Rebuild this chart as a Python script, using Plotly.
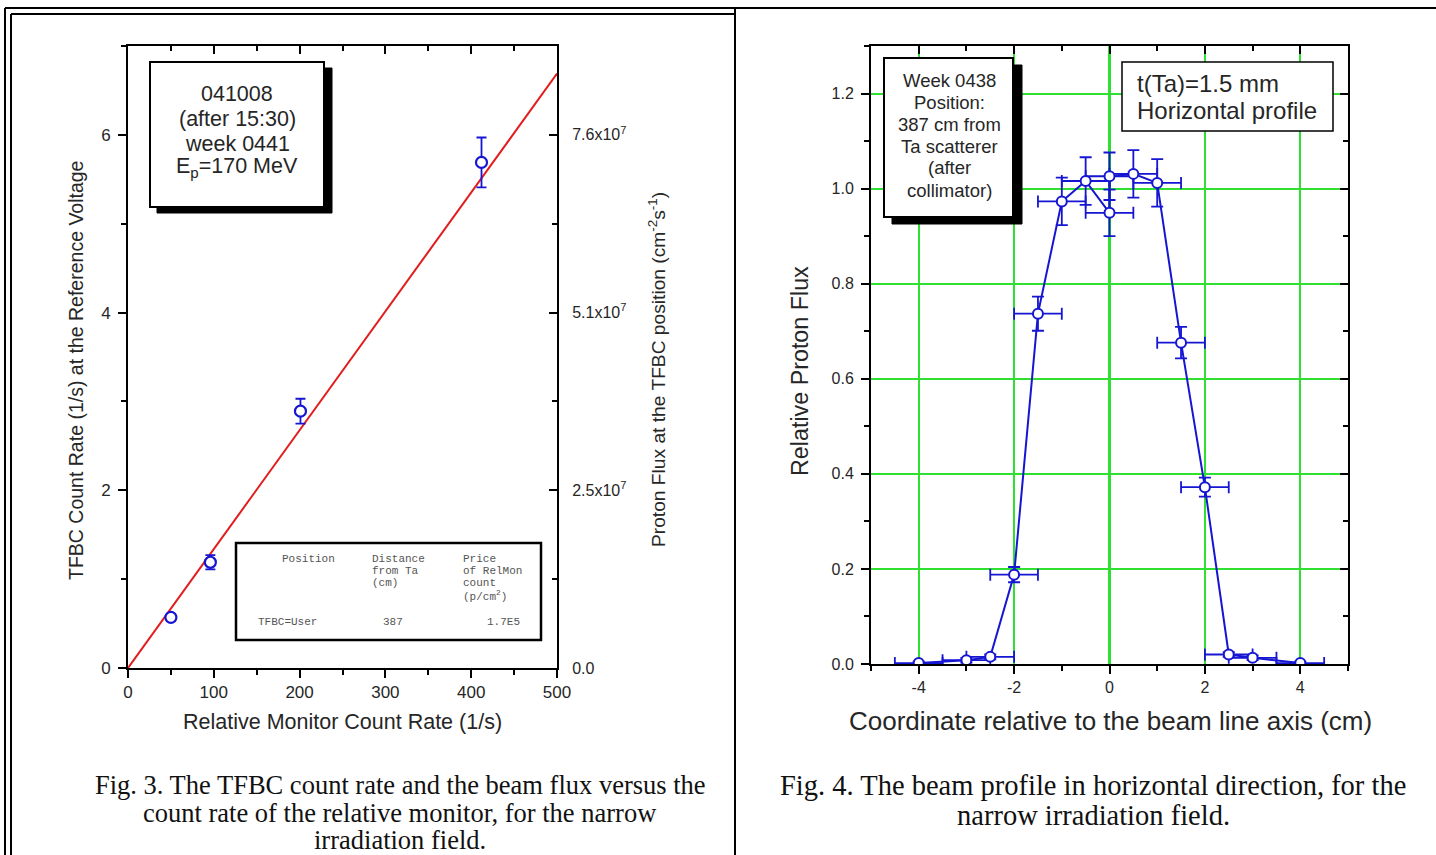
import plotly.graph_objects as go

# ---------------- data ----------------
# Fig. 3 (left panel)
mon_rate = [50, 96, 201, 412]            # Relative monitor count rate (1/s)
tfbc_rate = [0.57, 1.19, 2.89, 5.69]     # TFBC count rate (1/s)
tfbc_err = [0.04, 0.08, 0.14, 0.28]
fit_x = [0, 500]
fit_y = [0.0, 6.69]
flux_tickvals = [0, 2.54e7, 5.08e7, 7.62e7]
flux_ticklabels = ["0.0", "2.5x10<sup>7</sup>", "5.1x10<sup>7</sup>", "7.6x10<sup>7</sup>"]
flux_minor = [1.27e7, 3.81e7, 6.35e7]
flux_max = 8.89e7

# Fig. 4 (right panel)
coord = [-4, -3, -2.5, -2, -1.5, -1, -0.5, 0, 0, 0.5, 1, 1.5, 2, 2.5, 3, 4]
coord_err = [0.5] * 16
rel_flux = [0.002, 0.008, 0.015, 0.188, 0.737, 0.973, 1.016, 0.949, 1.026,
            1.031, 1.012, 0.676, 0.372, 0.020, 0.013, 0.002]
rel_flux_err = [0.003, 0.005, 0.005, 0.016, 0.036, 0.05, 0.05, 0.049, 0.05,
                0.05, 0.05, 0.033, 0.02, 0.005, 0.005, 0.003]
coord_ticks = [-4, -2, 0, 2, 4]
coord_ticklabels = ["-4", "-2", "0", "2", "4"]

W, H = 1436, 855


def fx(p):
    return p / W


def fy(p):
    return 1 - p / H


FONT = "Liberation Sans, Arial, sans-serif"
SERIF = "Liberation Serif, Times New Roman, serif"
MONO = "Liberation Mono, Courier New, monospace"
BLUE = "#1616d2"
RED = "#e21c1c"
GREEN = "#30e030"
TXT = "#262626"

fig = go.Figure()

# ---- left panel traces ----
fig.add_trace(go.Scatter(x=fit_x, y=fit_y, mode="lines",
                         line=dict(color=RED, width=2), xaxis="x", yaxis="y",
                         showlegend=False, hoverinfo="skip"))
fig.add_trace(go.Scatter(x=mon_rate, y=tfbc_rate, mode="markers",
                         marker=dict(symbol="circle", size=11, color="white",
                                     line=dict(color=BLUE, width=2.2)),
                         error_y=dict(type="data", array=tfbc_err, color=BLUE,
                                      thickness=1.8, width=5),
                         xaxis="x", yaxis="y", showlegend=False))
# dummy traces so the overlay axes are drawn
fig.add_trace(go.Scatter(x=[None], y=[None], xaxis="x", yaxis="y2", showlegend=False))
fig.add_trace(go.Scatter(x=[None], y=[None], xaxis="x3", yaxis="y", showlegend=False))

# ---- right panel traces ----
fig.add_trace(go.Scatter(x=coord, y=rel_flux, mode="lines+markers",
                         line=dict(color=BLUE, width=2),
                         marker=dict(symbol="circle", size=10, color="white",
                                     line=dict(color=BLUE, width=2)),
                         error_y=dict(type="data", array=rel_flux_err, color=BLUE,
                                      thickness=1.8, width=6),
                         error_x=dict(type="data", array=coord_err, color=BLUE,
                                      thickness=1.8, width=6),
                         xaxis="x4", yaxis="y4", showlegend=False))
fig.add_trace(go.Scatter(x=[None], y=[None], xaxis="x4", yaxis="y5", showlegend=False))
fig.add_trace(go.Scatter(x=[None], y=[None], xaxis="x5", yaxis="y4", showlegend=False))

tickfont = dict(family=FONT, size=17, color=TXT)
tickfont_r = dict(family=FONT, size=16, color=TXT)
common = dict(showline=True, linecolor="black", linewidth=2, zeroline=False,
              showgrid=False, tickcolor="black", tickwidth=2, automargin=False)

L_dom_x = [fx(128), fx(557)]
L_dom_y = [fy(668), fy(46)]
R_dom_x = [fx(871), fx(1348)]
R_dom_y = [fy(664), fy(46)]

fig.update_layout(
    width=W, height=H, autosize=False,
    margin=dict(l=0, r=0, t=0, b=0, autoexpand=False),
    paper_bgcolor="white", plot_bgcolor="white",
    showlegend=False,
    xaxis=dict(domain=L_dom_x, anchor="y", range=[0, 500], tickmode="linear",
               tick0=0, dtick=100, ticks="outside", ticklen=8, tickfont=tickfont,
               minor=dict(ticks="outside", ticklen=5, dtick=50, tickcolor="black", tickwidth=2),
               **common),
    xaxis3=dict(overlaying="x", anchor="y", side="top", range=[0, 500], tickmode="linear",
                tick0=0, dtick=100, ticks="inside", ticklen=8, showticklabels=False,
                minor=dict(ticks="inside", ticklen=5, dtick=50, tickcolor="black", tickwidth=2),
                **common),
    yaxis=dict(domain=L_dom_y, anchor="x", range=[0, 7], tickmode="linear", tick0=0,
               dtick=2, ticks="outside", ticklen=8, tickfont=tickfont, ticklabelstandoff=4,
               minor=dict(ticks="outside", ticklen=5, dtick=1, tickcolor="black", tickwidth=2),
               **common),
    yaxis2=dict(overlaying="y", anchor="x", side="right", range=[0, flux_max],
                tickmode="array", tickvals=flux_tickvals, ticktext=flux_ticklabels,
                ticks="inside", ticklen=8, tickfont=dict(family=FONT, size=16, color=TXT),
                ticklabelstandoff=10,
                minor=dict(ticks="inside", ticklen=5, tickmode="array", tickvals=flux_minor,
                           tickcolor="black", tickwidth=2),
                **common),
    xaxis4=dict(domain=R_dom_x, anchor="y4", range=[-5, 5], tickmode="array",
                tickvals=coord_ticks, ticktext=coord_ticklabels,
                ticks="outside", ticklen=8, tickfont=tickfont_r, automargin=False,
                showline=True, linecolor="black", linewidth=2, tickcolor="black", tickwidth=2,
                showgrid=True, gridcolor=GREEN, gridwidth=1.5,
                zeroline=True, zerolinecolor=GREEN, zerolinewidth=3,
                minor=dict(ticks="outside", ticklen=5, tickmode="linear", tick0=0, dtick=1,
                           tickcolor="black", tickwidth=2)),
    xaxis5=dict(overlaying="x4", anchor="y4", side="top", range=[-5, 5], tickmode="linear",
                tick0=0, dtick=2, ticks="inside", ticklen=8, showticklabels=False,
                minor=dict(ticks="inside", ticklen=5, dtick=1, tickcolor="black", tickwidth=2),
                **common),
    yaxis4=dict(domain=R_dom_y, anchor="x4", range=[0, 1.3], tickmode="linear", tick0=0,
                dtick=0.2, tickformat=".1f", ticks="outside", ticklen=8, tickfont=tickfont_r,
                ticklabelstandoff=4, automargin=False,
                showline=True, linecolor="black", linewidth=2, tickcolor="black", tickwidth=2,
                showgrid=True, gridcolor=GREEN, gridwidth=1.5, zeroline=False,
                minor=dict(ticks="outside", ticklen=5, dtick=0.1, tickcolor="black", tickwidth=2)),
    yaxis5=dict(overlaying="y4", anchor="x4", side="right", range=[0, 1.3], tickmode="linear",
                tick0=0, dtick=0.2, ticks="inside", ticklen=8, showticklabels=False,
                minor=dict(ticks="inside", ticklen=5, dtick=0.1, tickcolor="black", tickwidth=2),
                **common),
)

shapes = []


def rect(x0, y0, x1, y1, fill="white", lw=2):
    shapes.append(dict(type="rect", xref="paper", yref="paper", x0=fx(x0), x1=fx(x1),
                       y0=fy(y1), y1=fy(y0), fillcolor=fill,
                       line=dict(color="black", width=lw), layer="above"))


def hline(x0, x1, y, lw=2):
    shapes.append(dict(type="line", xref="paper", yref="paper", x0=fx(x0), x1=fx(x1),
                       y0=fy(y), y1=fy(y), line=dict(color="black", width=lw), layer="above"))


def vline(x, y0, y1, lw=2):
    shapes.append(dict(type="line", xref="paper", yref="paper", x0=fx(x), x1=fx(x),
                       y0=fy(y0), y1=fy(y1), line=dict(color="black", width=lw), layer="above"))


# page frame
hline(5, 1436, 8)
vline(5, 8, 855)
hline(11, 735, 14)
vline(11, 14, 855)
vline(735, 8, 855)

# left text box with shadow
rect(157, 68, 332, 213, fill="black", lw=1)
rect(150, 62, 324, 207)
# table box
rect(236, 543, 541, 640, lw=2.5)
# right boxes
rect(892, 65, 1022, 224, fill="black", lw=1)
rect(884, 58, 1013, 217)
rect(1122, 62, 1333, 131, lw=1.5)

annotations = []


def txt(text, x, y, size, family=FONT, color=TXT, xanchor="center", yanchor="middle",
        angle=0):
    annotations.append(dict(text=text, x=fx(x), y=fy(y), xref="paper", yref="paper",
                            showarrow=False, xanchor=xanchor, yanchor=yanchor,
                            textangle=angle, font=dict(family=family, size=size, color=color)))


# left box text
for t, yy in zip(["041008", "(after 15:30)", "week 0441", "E<sub>p</sub>=170 MeV"],
                 [94, 119, 144, 168]):
    txt(t, 237, yy, 21.5)

# table text
tc = "#555555"
txt("Position", 280, 559, 11, MONO, tc, xanchor="left")
for t, yy in zip(["Distance", "from Ta", "(cm)"], [559, 571, 583]):
    txt(t, 370, yy, 11, MONO, tc, xanchor="left")
for t, yy in zip(["Price", "of RelMon", "count", "(p/cm<sup>2</sup>)"], [559, 571, 583, 596]):
    txt(t, 461, yy, 11, MONO, tc, xanchor="left")
txt("TFBC=User", 256, 622, 11, MONO, tc, xanchor="left")
txt("387", 381, 622, 11, MONO, tc, xanchor="left")
txt("1.7E5", 485, 622, 11, MONO, tc, xanchor="left")

# right boxes text
for t, yy in zip(["Week 0438", "Position:", "387 cm from", "Ta scatterer", "(after",
                  "collimator)"], [80, 102, 125, 146, 168, 190]):
    txt(t, 949, yy, 18.5)
txt("t(Ta)=1.5 mm", 1135, 83, 24, xanchor="left")
txt("Horizontal profile", 1135, 110, 24, xanchor="left")

# axis titles
txt("TFBC Count Rate (1/s) at the Reference Voltage", 76, 371, 19.5, angle=-90)
txt("Proton Flux at the TFBC position (cm<sup>-2</sup>s<sup>-1</sup>)", 657, 370, 19.2, angle=-90)
txt("Relative Monitor Count Rate (1/s)", 342, 722, 21.5)
txt("Relative Proton Flux", 800, 371, 23.3, angle=-90)
txt("Coordinate relative to the beam line axis (cm)", 1110, 721, 26)

# captions
for t, yy in zip(["Fig. 3. The TFBC count rate and the beam flux versus the",
                  "count rate of the relative monitor, for the narrow",
                  "irradiation field."], [785, 813, 840]):
    txt(t, 400, yy, 26.5, SERIF, "#111111")
for t, yy in zip(["Fig. 4. The beam profile in horizontal direction, for the",
                  "narrow irradiation field."], [785, 815]):
    txt(t, 1093, yy, 28.5, SERIF, "#111111")

fig.update_layout(shapes=shapes, annotations=annotations)

post = "document.body.style.margin='0px';document.body.style.overflow='hidden';"
fig.write_html("out.html", config={"displayModeBar": False}, post_script=post)
